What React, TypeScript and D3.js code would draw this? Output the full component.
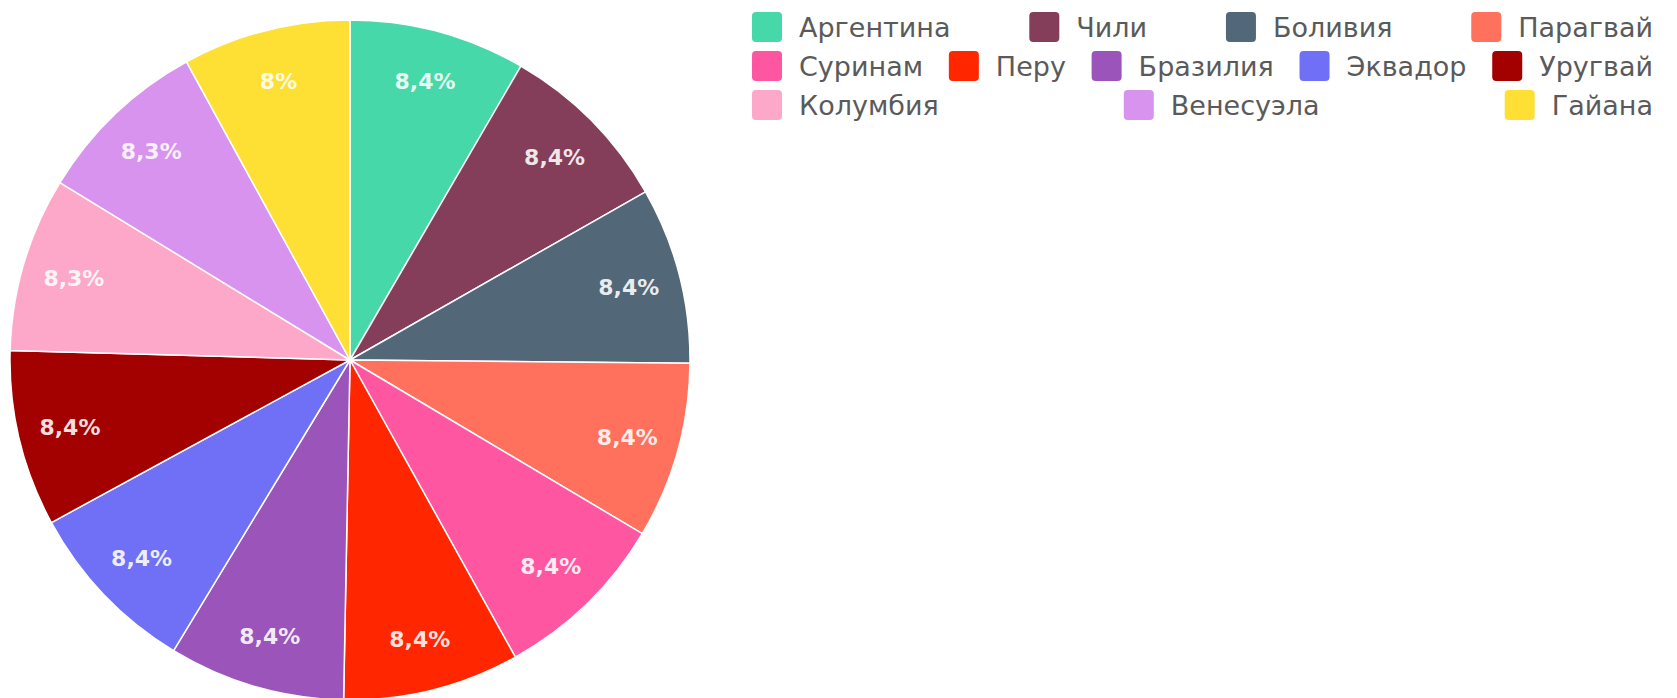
import { useRef, useEffect } from 'react';
import * as d3 from 'd3';

const categories = ['Аргентина', 'Чили', 'Боливия', 'Парагвай', 'Суринам', 'Перу', 'Бразилия', 'Эквадор', 'Уругвай', 'Колумбия', 'Венесуэла', 'Гайана'];
const values = [8.4, 8.4, 8.4, 8.4, 8.4, 8.4, 8.4, 8.4, 8.4, 8.3, 8.3, 8.0];
const colours = ['#46d8a9', '#843e59', '#526778', '#ff705d', '#ff56a1', '#ff2600', '#9b55ba', '#6f70f6', '#a30000', '#fea8c9', '#d893ee', '#fedf34'];
// how many legend entries go on each row
const legendRows = [4, 5, 3];

const WIDTH = 1677;
const HEIGHT = 698;

export default function App() {
  const svgRef = useRef<SVGSVGElement>(null);

  useEffect(() => {
    document.body.style.margin = '0';
    if (!svgRef.current) return;

    const svg = d3.select(svgRef.current);
    svg.selectAll('*').remove();

    const cx = 350;
    const cy = 360;
    const radius = 340;

    const total = d3.sum(values);
    const pct = d3.formatLocale({ decimal: ',', thousands: ' ', grouping: [3], currency: ['', ''] }).format('~f');

    const pie = d3.pie<number>().sort(null).value(d => d);
    const arcs = pie(values);

    const arc = d3.arc<d3.PieArcDatum<number>>().innerRadius(0).outerRadius(radius);
    const labelArc = d3.arc<d3.PieArcDatum<number>>().innerRadius(288).outerRadius(288);

    const g = svg.append('g').attr('transform', `translate(${cx},${cy})`);

    g.selectAll('path')
      .data(arcs)
      .join('path')
      .attr('d', arc)
      .attr('fill', (_, i) => colours[i])
      .attr('stroke', '#fff')
      .attr('stroke-width', 1.5)
      .attr('stroke-linejoin', 'round');

    g.selectAll('text')
      .data(arcs)
      .join('text')
      .attr('transform', d => `translate(${labelArc.centroid(d)})`)
      .attr('text-anchor', 'middle')
      .attr('dominant-baseline', 'central')
      .attr('font-family', '"DejaVu Sans", sans-serif')
      .attr('font-size', 22)
      .attr('font-weight', 'bold')
      .attr('fill', '#fff')
      .attr('fill-opacity', 0.88)
      .text(d => pct(Math.round((d.value / total) * 1000) / 10) + '%');

    // legend: rows spread edge to edge
    const left = 752;
    const right = 1653;
    const box = 30;
    const gap = 17;
    const rowTop = d3.scaleLinear().domain([0, 1]).range([12, 51]);

    const legend = svg.append('g');
    let idx = 0;
    legendRows.forEach((count, row) => {
      const items = d3.range(idx, idx + count);
      idx += count;
      const y = rowTop(row);
      const groups = items.map(i => {
        const item = legend.append('g');
        item.append('rect')
          .attr('width', box)
          .attr('height', box)
          .attr('rx', 4)
          .attr('fill', colours[i]);
        const t = item.append('text')
          .attr('x', box + gap)
          .attr('y', box / 2)
          .attr('dominant-baseline', 'central')
          .attr('font-family', '"DejaVu Sans", sans-serif')
          .attr('font-size', 27)
          .attr('fill', '#5a5a5a')
          .text(categories[i]);
        const w = box + gap + (t.node() as SVGTextElement).getComputedTextLength();
        return { item, w };
      });
      const used = d3.sum(groups, d => d.w);
      const spacing = groups.length > 1 ? (right - left - used) / (groups.length - 1) : 0;
      let x = left;
      groups.forEach(({ item, w }) => {
        item.attr('transform', `translate(${x},${y})`);
        x += w + spacing;
      });
    });
  }, []);

  return <svg ref={svgRef} width={WIDTH} height={HEIGHT} style={{ display: 'block' }} />;
}
